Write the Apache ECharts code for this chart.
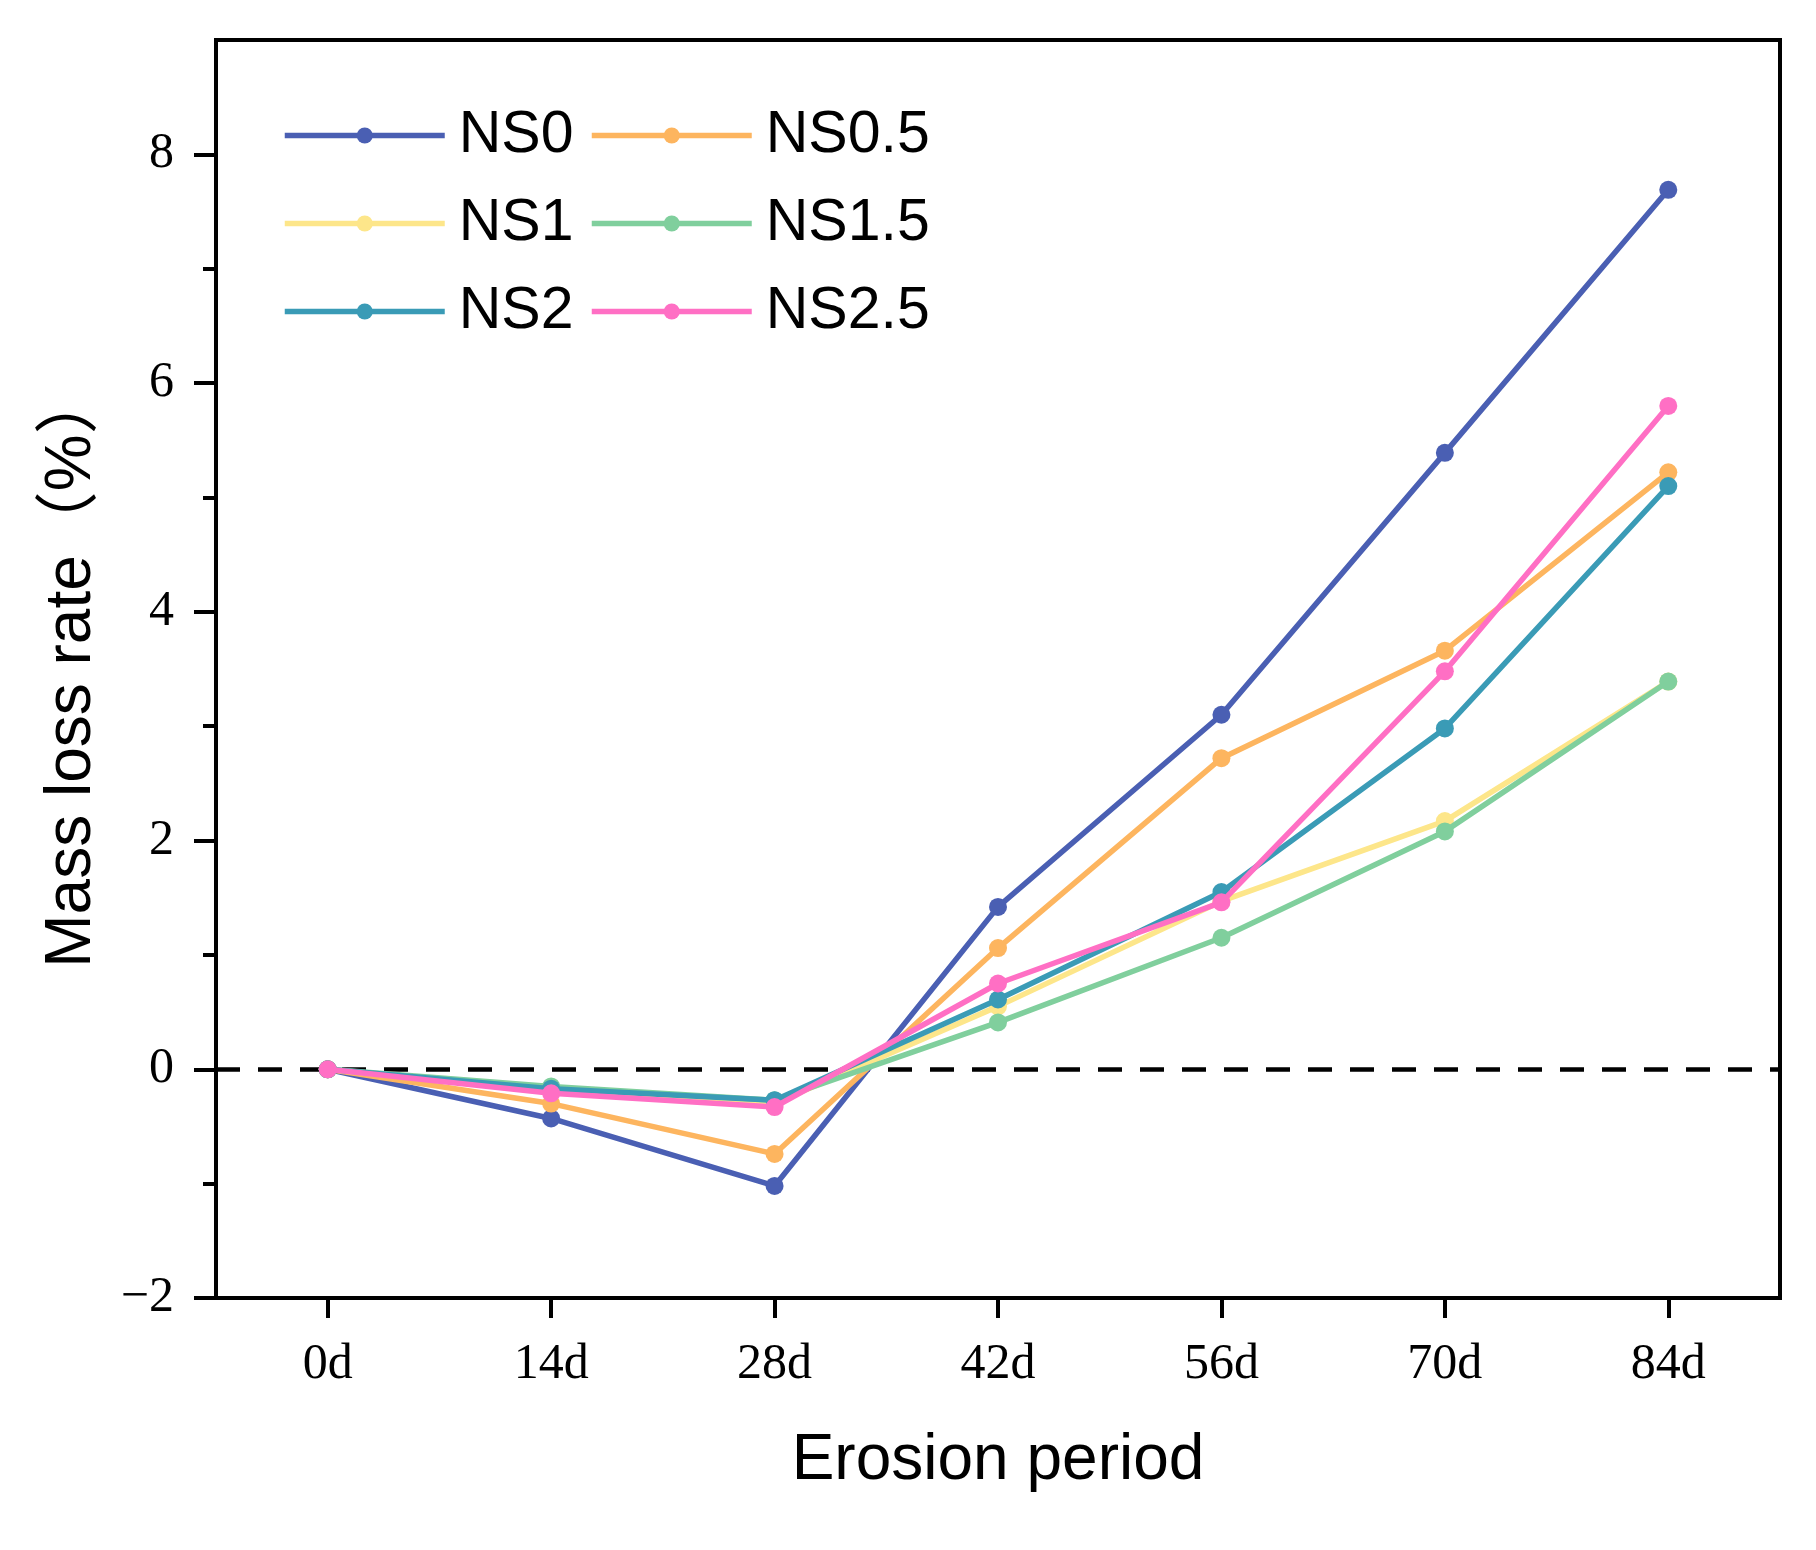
<!DOCTYPE html>
<html>
<head>
<meta charset="utf-8">
<script src="https://cdn.jsdelivr.net/npm/echarts@6/dist/echarts.min.js"></script>
<style>
html,body{margin:0;padding:0;background:#fff;}
#chart{width:1816px;height:1550px;}
</style>
</head>
<body>
<div id="chart"></div>
<script>
const categories = ['0d','14d','28d','42d','56d','70d','84d'];
const seriesNames = ['NS0','NS0.5','NS1','NS1.5','NS2','NS2.5'];
const ns0   = [0, -0.43, -1.02, 1.42, 3.10, 5.39, 7.69];
const ns05  = [0, -0.30, -0.74, 1.06, 2.72, 3.66, 5.22];
const ns1   = [0, -0.19, -0.30, 0.55, 1.47, 2.17, 3.39];
const ns15  = [0, -0.15, -0.27, 0.41, 1.15, 2.08, 3.39];
const ns2   = [0, -0.17, -0.27, 0.61, 1.55, 2.98, 5.10];
const ns25  = [0, -0.21, -0.33, 0.75, 1.46, 3.48, 5.80];
const majorTicks = [-2, 0, 2, 4, 6, 8];
const minorTicks = [-1, 1, 3, 5, 7];

const colors = ['#4a5fb3', '#fdb55f', '#fde68a', '#80cf9d', '#3a9bb6', '#ff6fc4'];
const values = [ns0, ns05, ns1, ns15, ns2, ns25];

const chart = echarts.init(document.getElementById('chart'), null, {renderer: 'canvas'});

const series = seriesNames.map((name, i) => {
  const s = {
    name: name,
    type: 'line',
    data: values[i],
    symbol: 'circle',
    symbolSize: 18,
    lineStyle: {color: colors[i], width: 5.5},
    itemStyle: {color: colors[i]},
    z: 3 + i
  };
  if (i === 0) {
    s.markLine = {
      silent: true,
      symbol: ['none', 'none'],
      label: {show: false},
      lineStyle: {color: '#000', type: [24, 18], width: 4.5},
      data: [{yAxis: 0}],
      z: 1
    };
  }
  return s;
});

const legendCommon = {
  orient: 'vertical',
  itemWidth: 160,
  itemHeight: 20,
  itemGap: 29,
  lineStyle: {width: 5.5},
  textStyle: {fontFamily: 'Liberation Sans, Arial, sans-serif', fontSize: 59, color: '#000', lineHeight: 57, padding: [0, 0, 0, 9]}
};

const option = {
  backgroundColor: '#fff',
  animation: false,
  color: colors,
  grid: {left: 216, right: 36, top: 40, bottom: 252, show: true, borderColor: '#000', borderWidth: 4, backgroundColor: 'transparent'},
  legend: [
    Object.assign({}, legendCommon, {left: 277, top: 101, data: ['NS0', 'NS1', 'NS2']}),
    Object.assign({}, legendCommon, {left: 584, top: 101, data: ['NS0.5', 'NS1.5', 'NS2.5']})
  ],
  xAxis: {
    type: 'category',
    data: categories,
    boundaryGap: true,
    name: 'Erosion period',
    nameLocation: 'middle',
    nameGap: 131,
    nameTextStyle: {fontFamily: 'Liberation Sans, Arial, sans-serif', fontSize: 64, color: '#000'},
    axisLine: {onZero: false, lineStyle: {color: '#000', width: 4}},
    axisTick: {show: true, alignWithLabel: true, interval: 0, length: 20, lineStyle: {color: '#000', width: 4}},
    axisLabel: {fontFamily: 'Liberation Serif, Times New Roman, serif', fontSize: 50, color: '#000', margin: 42},
    splitLine: {show: false}
  },
  yAxis: [
    {
      type: 'value',
      min: -2,
      max: 9,
      name: 'Mass loss rate（%）',
      nameLocation: 'middle',
      nameGap: 112,
      nameRotate: 90,
      nameTextStyle: {fontFamily: 'Liberation Sans, Arial, "Noto Sans CJK SC", sans-serif', fontSize: 64, color: '#000'},
      axisLine: {show: true, onZero: false, lineStyle: {color: '#000', width: 4}},
      axisTick: {show: true, length: 22, customValues: majorTicks, lineStyle: {color: '#000', width: 4}},
      axisLabel: {
        fontFamily: 'Liberation Serif, Times New Roman, serif', fontSize: 50, color: '#000', margin: 42,
        customValues: majorTicks,
        formatter: v => String(v).replace('-', '−')
      },
      splitLine: {show: false}
    },
    {
      type: 'value',
      min: -2,
      max: 9,
      position: 'left',
      axisLine: {show: false, onZero: false},
      axisTick: {show: true, length: 13, customValues: minorTicks, lineStyle: {color: '#000', width: 4}},
      axisLabel: {show: false},
      splitLine: {show: false}
    }
  ],
  series: series
};

chart.setOption(option);
</script>
</body>
</html>
